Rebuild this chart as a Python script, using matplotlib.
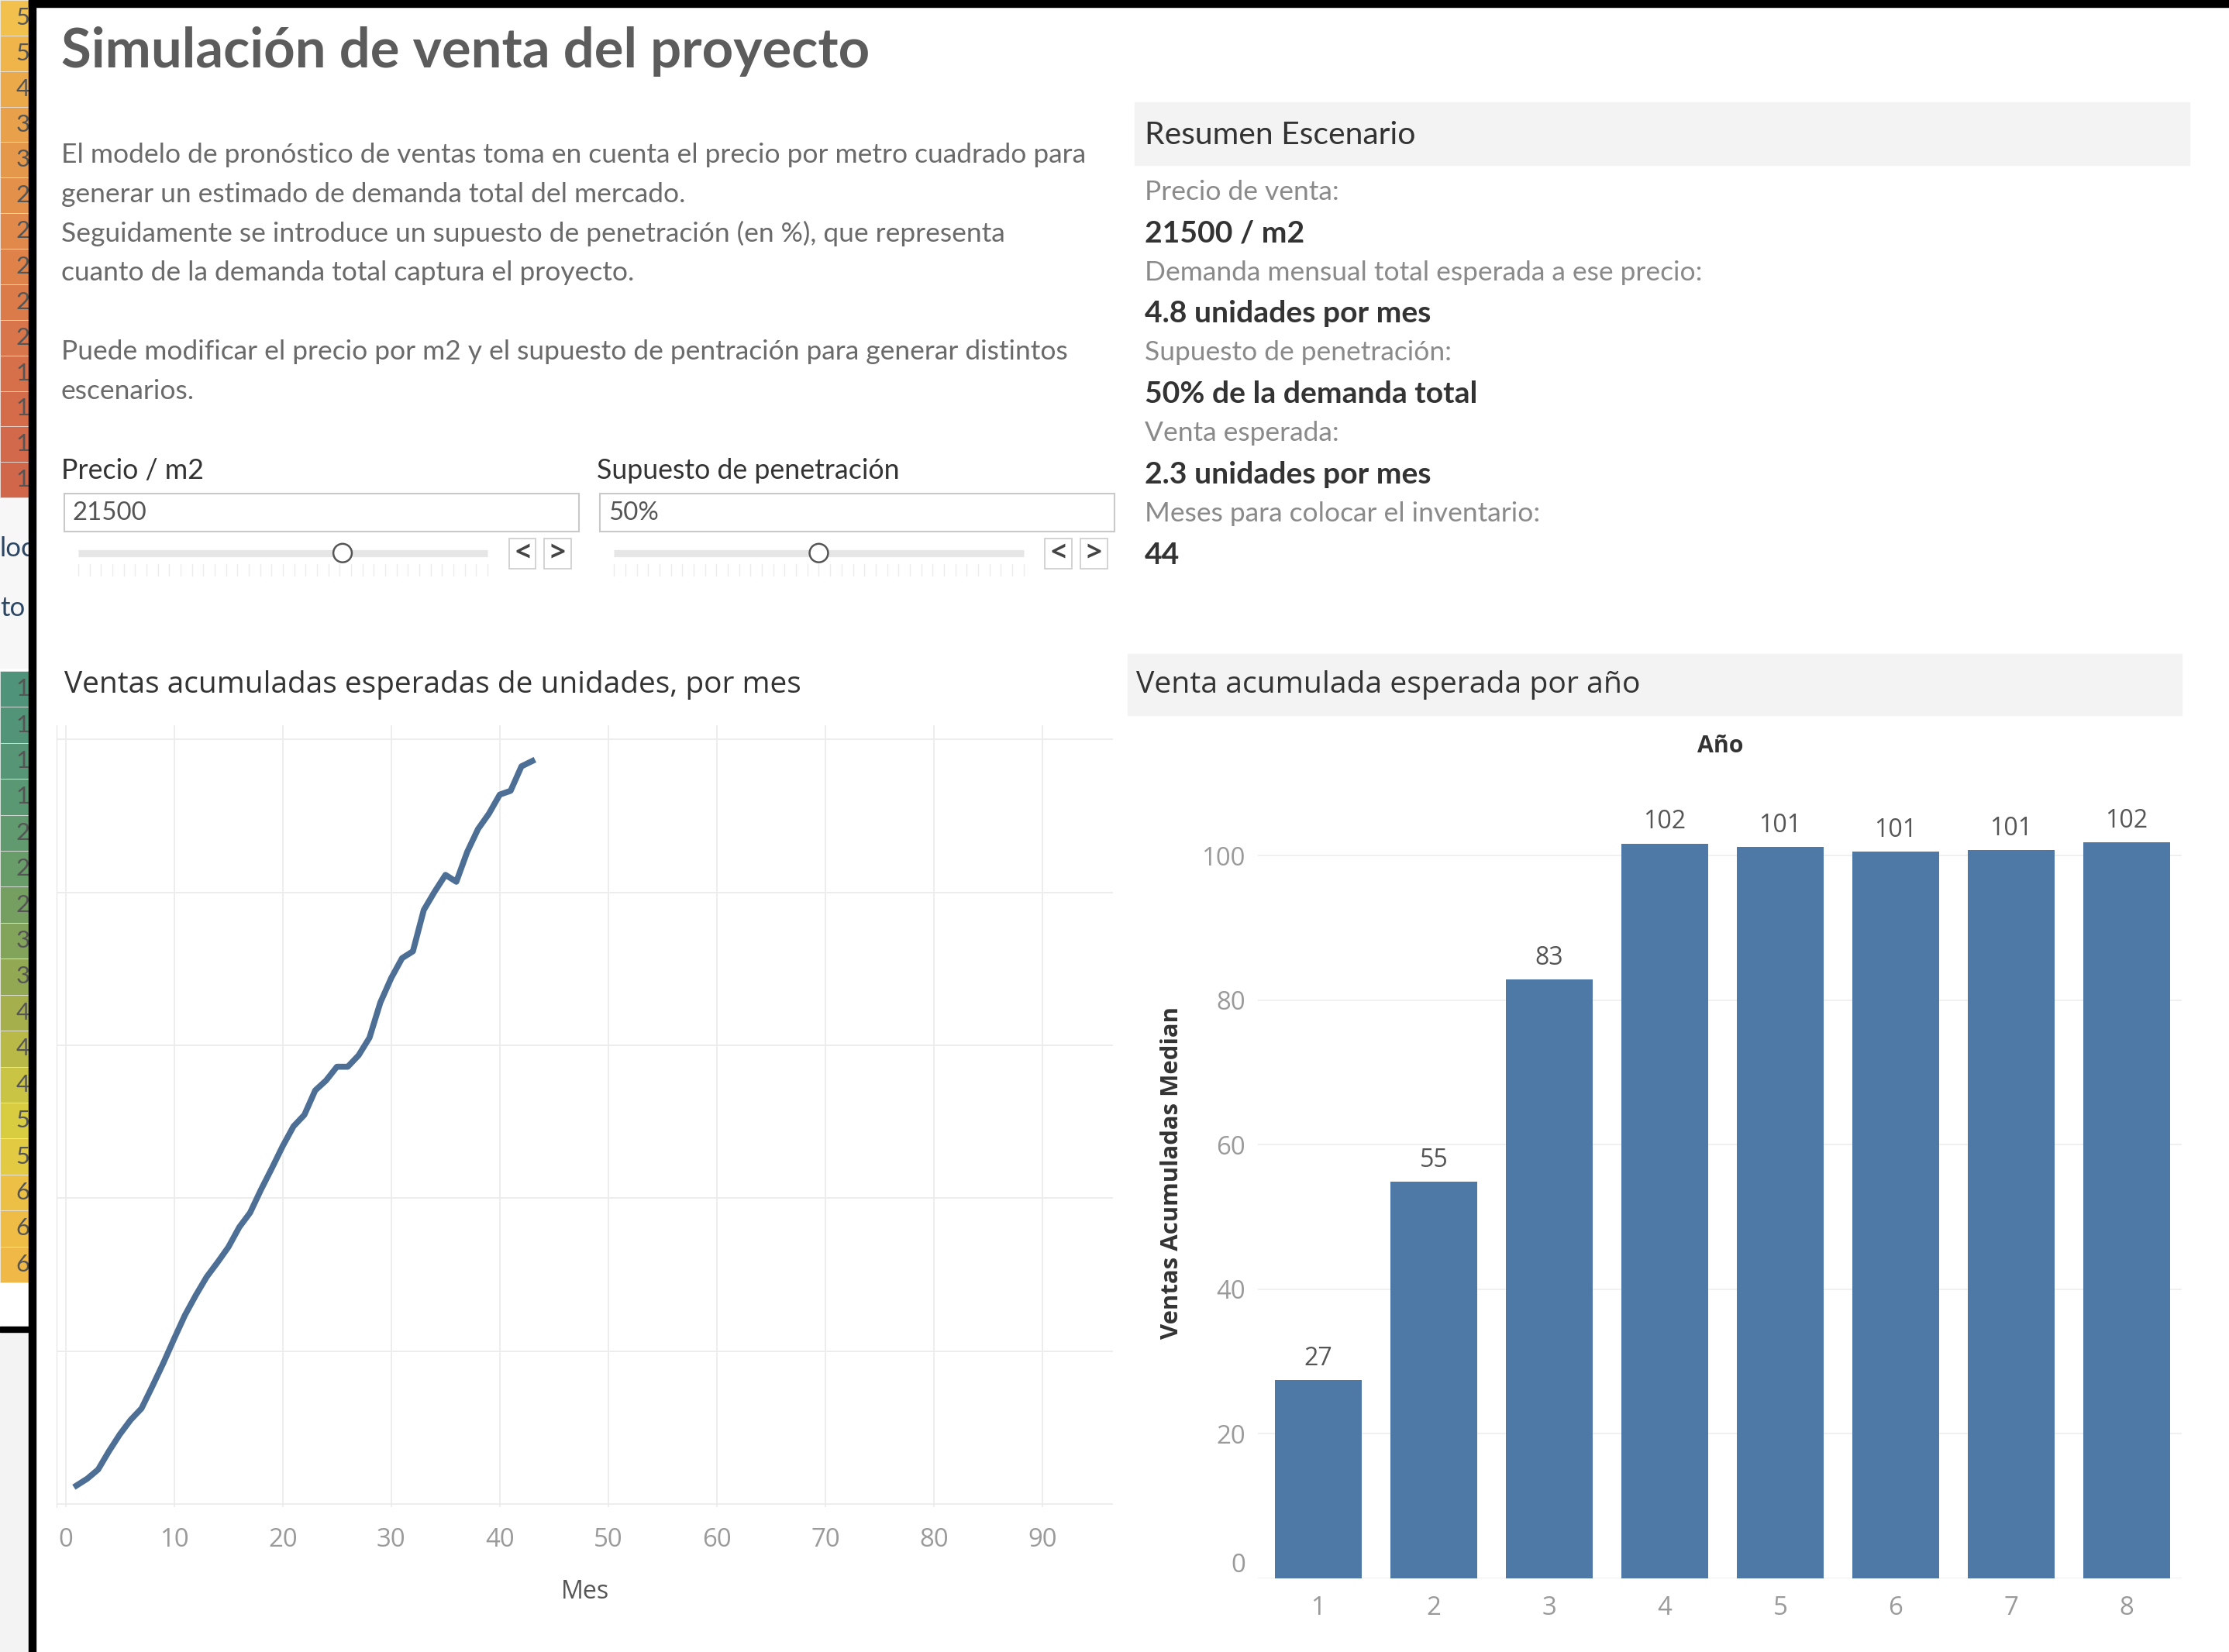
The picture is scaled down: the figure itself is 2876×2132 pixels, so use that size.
import numpy as np
import matplotlib.pyplot as plt
from matplotlib.patches import Rectangle, Circle

# ---- data ----
meses = list(range(1, 44))
ventas_acum = [2.4, 3.3, 4.5, 6.9, 9.1, 11.0, 12.5, 15.4, 18.4, 21.6,
               24.7, 27.3, 29.7, 31.6, 33.6, 36.2, 38.1, 41.1, 43.9, 46.8,
               49.4, 50.9, 54.1, 55.4, 57.2, 57.2, 58.7, 61.0, 65.6, 68.8,
               71.4, 72.3, 77.7, 80.1, 82.3, 81.4, 85.3, 88.3, 90.3, 92.8,
               93.3, 96.5, 97.2]

anios = [1, 2, 3, 4, 5, 6, 7, 8]
venta_anual = [27.4, 54.9, 82.9, 101.7, 101.2, 100.6, 100.8, 101.9]

titulo = "Simulación de venta del proyecto"
parrafo = [
    "El modelo de pronóstico de ventas toma en cuenta el precio por metro cuadrado para",
    "generar un estimado de demanda total del mercado.",
    "Seguidamente se introduce un supuesto de penetración (en %), que representa",
    "cuanto de la demanda total captura el proyecto.",
    "",
    "Puede modificar el precio por m2 y el supuesto de pentración para generar distintos",
    "escenarios.",
]
resumen = [
    ("Precio de venta:", "21500 / m2"),
    ("Demanda mensual total esperada a ese precio:", "4.8 unidades por mes"),
    ("Supuesto de penetración:", "50% de la demanda total"),
    ("Venta esperada:", "2.3 unidades por mes"),
    ("Meses para colocar el inventario:", "44"),
]
precio = "21500"
penetracion = "50%"

strip_top_digits = ["5", "5", "4", "3", "3", "2", "2", "2", "2", "2", "1", "1", "1", "1"]
strip_top_colors = ["#f2c04c", "#efb54b", "#eca94a", "#e9a04a", "#e6984a", "#e3904a",
                    "#e0894a", "#de824a", "#db7b4a", "#d9754a", "#d6704a", "#d46c4a",
                    "#d2694a", "#d0664a"]
strip_bot_digits = ["1", "1", "1", "1", "2", "2", "2", "3", "3", "4", "4", "4",
                    "5", "5", "6", "6", "6"]
strip_bot_colors = ["#4e937a", "#529478", "#569676", "#5a9873", "#609a6e", "#689c68",
                    "#749f61", "#82a35a", "#92a853", "#a5b04c", "#b8b947", "#c9c443",
                    "#d8cc40", "#e2cb42", "#ecc045", "#efbc46", "#f0b847"]

W, H = 1568.0, 1162.0
K = 2876.0 / W


def fx(x):
    return x / W


def fy(y):
    return 1 - y / H


def fs(px):
    return px * K * 0.72


fig = plt.figure(figsize=(28.76, 21.32), dpi=100)
fig.patch.set_facecolor("white")

SANS = ["Lato", "DejaVu Sans"]
CHART = ["Open Sans", "DejaVu Sans"]

# ---- left strip (other sheet behind) ----
sa = fig.add_axes([0, 0, fx(21), 1])
sa.set_xlim(0, 21)
sa.set_ylim(H, 0)
sa.axis("off")
sa.add_patch(Rectangle((0, 350), 21, 120, color="#f7f7f7"))
sa.add_patch(Rectangle((0, 937), 21, H - 937, color="#f3f3f3"))
ch = 350 / len(strip_top_digits)
for i, (d, c) in enumerate(zip(strip_top_digits, strip_top_colors)):
    sa.add_patch(Rectangle((0, i * ch), 21, ch, facecolor=c, edgecolor="#e8e8e8", lw=0.5))
    sa.text(11, i * ch + ch / 2, d, fontsize=fs(17), color="#555555", va="center",
            family=SANS, clip_on=True)
ch2 = 430 / len(strip_bot_digits)
for i, (d, c) in enumerate(zip(strip_bot_digits, strip_bot_colors)):
    sa.add_patch(Rectangle((0, 472 + i * ch2), 21, ch2, facecolor=c, edgecolor="#e8e8e8", lw=0.5))
    sa.text(11, 472 + i * ch2 + ch2 / 2, d, fontsize=fs(17), color="#555555", va="center",
            family=SANS, clip_on=True)
sa.text(0, 386, "loc", fontsize=fs(19), color="#2c4766", va="center", family=SANS, clip_on=True)
sa.text(0, 428, "to", fontsize=fs(19), color="#2c4766", va="center", family=SANS, clip_on=True)
sa.add_patch(Rectangle((0, 933), 21, 4, color="black"))

# frame of the dashboard
fig.patches.append(Rectangle((fx(20), 0), fx(5), 1, transform=fig.transFigure, color="black"))
fig.patches.append(Rectangle((fx(20), fy(5)), 1, fy(0) - fy(5), transform=fig.transFigure, color="black"))

# ---- header texts ----
fig.text(fx(43), fy(36), titulo, fontsize=fs(38.5), fontweight="bold", color="#5c5c5c",
         va="center", family=SANS)
for i, line in enumerate(parrafo):
    fig.text(fx(43), fy(109 + i * 27.7), line, fontsize=fs(19.3), color="#6a6a6a",
             va="center", family=SANS)

# ---- parameter controls ----
for x0, label, val in [(43, "Precio / m2", precio), (420, "Supuesto de penetración", penetracion)]:
    fig.text(fx(x0), fy(331), label, fontsize=fs(19.5), color="#333333", va="center", family=SANS)
    fig.patches.append(Rectangle((fx(x0 + 2), fy(374)), fx(362), fy(347) - fy(374),
                                 transform=fig.transFigure, facecolor="white",
                                 edgecolor="#c9c9c9", lw=1.5))
    fig.text(fx(x0 + 8), fy(361), val, fontsize=fs(18), color="#555555", va="center", family=SANS)

sl = fig.add_axes([0, 0, 1, 1], zorder=3)
sl.set_xlim(0, W)
sl.set_ylim(H, 0)
sl.axis("off")
for x0, knob in [(55, 241), (432, 576)]:
    sl.plot([x0, x0 + 288], [389, 389], color="#e6e6e6", lw=fs(5), solid_capstyle="butt")
    for t in np.linspace(x0, x0 + 288, 37):
        sl.plot([t, t], [397, 405], color="#ececec", lw=1)
    sl.add_patch(Circle((knob, 389), 6.5, facecolor="white", edgecolor="#555555", lw=1.8,
                        zorder=5))
    for bx, glyph in [(x0 + 303, "<"), (x0 + 328, ">")]:
        sl.add_patch(Rectangle((bx, 379), 19, 21, facecolor="white", edgecolor="#cccccc", lw=1.2))
        sl.text(bx + 9.5, 389.5, glyph, fontsize=fs(19), fontweight="bold", color="#444444",
                ha="center", va="center", family=CHART)

# ---- summary panel ----
fig.patches.append(Rectangle((fx(798), fy(116)), fx(742), fy(72) - fy(116),
                             transform=fig.transFigure, color="#f3f3f3"))
fig.text(fx(805), fy(95), "Resumen Escenario", fontsize=fs(22.3), color="#333333",
         va="center", family=SANS)
for i, (lab, val) in enumerate(resumen):
    y = 135 + i * 56.6
    fig.text(fx(805), fy(y), lab, fontsize=fs(19.3), color="#8a8a8a", va="center", family=SANS)
    fig.text(fx(805), fy(y + 29), val, fontsize=fs(21.3), fontweight="bold", color="#333333",
             va="center", family=SANS)

# ---- line chart ----
fig.text(fx(45), fy(482), "Ventas acumuladas esperadas de unidades, por mes", fontsize=fs(21.2),
         color="#333333", va="center", family=CHART)
ax1 = fig.add_axes([fx(40), fy(1060), fx(743), fy(510) - fy(1060)])
ax1.plot(meses, ventas_acum, color="#4e6f95", lw=fs(4.2), solid_joinstyle="round")
ax1.set_xlim(-0.8, 96.5)
ax1.set_ylim(-0.4, 101.9)
ax1.set_xticks(range(0, 100, 10))
ax1.set_yticks(range(0, 120, 20))
ax1.set_yticklabels([])
ax1.grid(True, color="#ececec", lw=1.3)
ax1.set_axisbelow(True)
for s in ["top", "right", "bottom"]:
    ax1.spines[s].set_visible(False)
ax1.spines["left"].set_color("#e4e4e4")
ax1.tick_params(length=0, labelsize=fs(18), labelcolor="#9a9a9a", pad=fs(14))
for t in ax1.get_xticklabels():
    t.set_family(CHART)
ax1.set_xlabel("Mes", fontsize=fs(17.5), color="#555555", family=CHART, labelpad=fs(19))

# ---- bar chart ----
fig.patches.append(Rectangle((fx(793), fy(503)), fx(742), fy(460) - fy(503),
                             transform=fig.transFigure, color="#f3f3f3"))
fig.text(fx(799), fy(482), "Venta acumulada esperada por año", fontsize=fs(21.3),
         color="#333333", va="center", family=CHART)
fig.text(fx(1210), fy(525), "Año", fontsize=fs(16.5), color="#333333", ha="center",
         va="center", family=CHART, fontweight="bold")
ax2 = fig.add_axes([fx(885), fy(1110), fx(650), fy(540) - fy(1110)])
bars = ax2.bar(anios, venta_anual, width=0.75, color="#4e78a6")
for b, v in zip(bars, venta_anual):
    ax2.text(b.get_x() + b.get_width() / 2, v + 1.2, f"{v:.0f}", ha="center", va="bottom",
             fontsize=fs(17.5), color="#555555", family=CHART)
ax2.set_xlim(0.48, 8.48)
ax2.set_ylim(0, 112.2)
ax2.set_xticks(anios)
ax2.set_yticks(range(0, 120, 20))
ax2.grid(True, axis="y", color="#efefef", lw=1.3)
ax2.set_axisbelow(True)
for s in ax2.spines.values():
    s.set_visible(False)
ax2.tick_params(length=0, labelsize=fs(18), labelcolor="#9a9a9a")
ax2.tick_params(axis="x", pad=fs(12))
ax2.tick_params(axis="y", pad=fs(9))
for t in ax2.get_xticklabels() + ax2.get_yticklabels():
    t.set_family(CHART)
ax2.get_yticklabels()[0].set_va("bottom")
ax2.set_ylabel("Ventas Acumuladas Median", fontsize=fs(17), color="#333333", family=CHART,
               fontweight="bold", labelpad=fs(13))

fig.savefig("out.png", dpi=100)
